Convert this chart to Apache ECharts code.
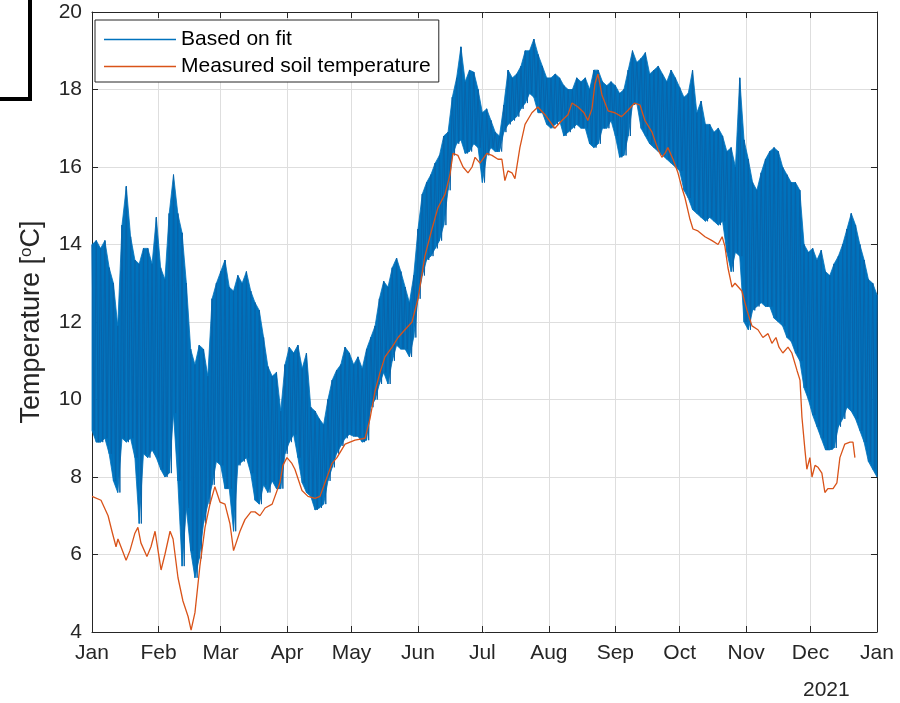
<!DOCTYPE html>
<html>
<head>
<meta charset="utf-8">
<script src="https://cdn.jsdelivr.net/npm/echarts@6/dist/echarts.min.js"></script>
<style>
  html, body { margin: 0; padding: 0; background: #ffffff; }
  #chart { width: 900px; height: 703px; }
</style>
</head>
<body>
<div id="chart"></div>
<script>
// Axis ticks: day-of-year (2020 is a leap year) for the first of each month
const monthStarts = [0, 31, 60, 91, 121, 152, 182, 213, 244, 274, 305, 335, 366];
const monthLabels = ['Jan', 'Feb', 'Mar', 'Apr', 'May', 'Jun', 'Jul', 'Aug', 'Sep', 'Oct', 'Nov', 'Dec', 'Jan'];
const yearLabel = '2021';
const tempMin = 4;
const tempMax = 20;
const tempStep = 2;

// Fitted temperature: daily upper and lower extremes, one value every 2 days (day 0 .. 366)
const fitStepDays = 2;
const fitHigh = [
  14.0, 14.1, 13.9, 14.1, 13.4, 13.0, 11.9, 14.5, 15.5, 14.2,
  13.6, 13.5, 13.9, 13.9, 13.5, 14.7, 13.4, 13.1, 14.8, 15.8,
  14.8, 14.3, 13.0, 11.3, 10.9, 11.4, 11.3, 10.6, 12.6, 13.0,
  13.3, 13.6, 12.9, 12.8, 13.2, 13.0, 13.3, 12.8, 12.5, 12.3,
  11.6, 10.85, 10.6, 10.7, 9.7, 10.9, 11.35, 11.2, 11.4, 10.8,
  11.2, 9.8, 9.7, 9.5, 9.35, 10.0, 10.5, 10.75, 10.9, 11.35,
  11.2, 10.9, 11.1, 10.8, 11.3, 11.6, 11.9, 12.6, 13.05, 12.9,
  13.4, 13.65, 13.3, 12.9, 12.5, 13.2, 14.4, 15.3, 15.6, 15.8,
  16.1, 16.3, 16.8, 16.9, 17.8, 18.3, 19.1, 18.2, 18.5, 18.45,
  18.0, 17.4, 17.5, 17.2, 16.9, 16.8, 17.6, 18.5, 18.3, 18.4,
  18.6, 19.0, 19.0, 19.3, 18.9, 18.6, 18.3, 18.3, 18.4, 18.3,
  18.1, 18.0, 18.0, 18.3, 18.2, 18.3, 18.0, 18.5, 18.5, 18.2,
  18.1, 18.2, 18.1, 17.9, 18.0, 18.5, 19.0, 18.7, 18.8, 18.95,
  18.4, 18.5, 18.6, 18.4, 18.2, 18.5, 18.3, 18.05, 17.8, 17.9,
  18.5, 17.4, 17.7, 17.1, 17.1, 16.9, 17.0, 16.8, 16.4, 16.5,
  16.0, 18.3, 16.7, 16.2, 15.6, 15.4, 15.85, 16.2, 16.4, 16.5,
  16.4, 16.0, 15.8, 15.6, 15.6, 15.4, 14.0, 13.8, 13.9, 13.6,
  13.85, 13.3, 13.2, 13.5, 13.7, 14.0, 14.4, 14.8, 14.5, 14.0,
  13.6, 13.1, 13.0, 12.7
];
const fitLow = [
  9.2, 8.9, 8.9, 9.0, 8.6, 7.9, 7.6, 9.0, 8.9, 9.0,
  8.5, 6.8, 8.6, 8.5, 8.7, 8.5, 8.2, 8.0, 8.1, 9.65,
  7.9, 5.7, 7.2, 6.1, 5.4, 5.9, 6.8, 7.3, 7.8, 8.4,
  8.3, 7.7, 7.7, 6.6, 8.3, 8.4, 8.5, 8.1, 7.4, 7.3,
  7.8, 7.6, 7.9, 7.7, 7.7, 8.6, 8.9, 9.1, 8.5, 7.85,
  7.6, 7.5, 7.15, 7.2, 7.3, 7.9, 8.25, 8.6, 8.8, 9.0,
  9.1, 9.05, 9.05, 8.9, 8.95, 9.8, 10.0, 10.4, 10.7, 10.4,
  11.0, 11.4, 11.3, 11.3, 11.1, 11.6, 12.6, 13.2, 13.6, 13.7,
  13.9, 14.1, 14.5, 15.4, 16.3, 16.6, 16.7, 16.35, 16.4, 16.6,
  16.5, 15.6, 16.3, 16.5, 16.4, 16.4, 16.9, 17.1, 17.2, 17.3,
  17.5, 17.65, 17.9, 17.8, 17.4, 17.4, 17.1, 17.0, 17.1, 17.2,
  16.8, 16.9, 17.0, 17.1, 17.0, 17.0, 16.6, 16.5, 16.6, 17.0,
  17.0, 17.2, 16.8, 16.25, 16.3, 16.8, 17.6, 17.65, 17.0, 16.8,
  16.6, 16.5, 16.4, 16.3, 16.2, 16.1, 16.0, 15.9, 15.4, 15.2,
  14.9, 14.8, 14.7, 14.6, 14.7, 14.6, 14.5, 14.6, 13.8, 13.3,
  13.8, 13.7, 12.0, 11.8, 12.3, 12.4, 12.5, 12.4, 12.4, 12.1,
  12.0, 11.9, 11.6, 11.5, 11.2, 11.0, 10.3, 10.0, 9.6, 9.3,
  9.0, 8.7, 8.7, 8.75, 9.3, 9.5, 9.8, 9.7, 9.5, 9.2,
  8.9, 8.4, 8.2, 8.0
];

// Measured soil temperature (day of year, degrees C)
const soilDays = [
  0, 4.2, 7.5, 9.3, 11.2, 12.1, 13.5, 15.9, 17.7, 20,
  21.4, 22.8, 25.6, 27.5, 29.4, 30.8, 32.2, 34, 36.4, 37.8,
  40.1, 42.4, 44.8, 46.2, 48, 50.3, 52.7, 55, 57.3, 59.7,
  62, 64.3, 66, 69, 71.3, 74.1, 76, 78.3, 80.7, 84,
  87.6, 89, 90.9, 93.2, 94.6, 97.9, 100.7, 104, 106.3, 109.6,
  111.9, 114.2, 118, 122.6, 127.3, 129.6, 131.9, 134.3, 136.6, 139.9,
  142.7, 145.9, 149.2, 152, 155.2, 158.5, 161.3, 164.6, 166.9, 168.3,
  170.6, 173, 175.3, 177.2, 178.6, 180.9, 184.1, 186.5, 189.3, 191.1,
  192.5, 193.9, 195.8, 197.2, 199.5, 201.9, 205.1, 207.9, 211.2, 214.5,
  215.8, 219.1, 221.9, 223.8, 226.6, 229.4, 231.2, 233.1, 234.5, 235.9,
  237.8, 240.6, 243.8, 246.9, 249.7, 253, 255.5, 257.8, 261.1, 263.9,
  265.7, 267.1, 268.5, 270.9, 273.2, 275.1, 276.5, 278.8, 280.2, 282.5,
  285.8, 289.1, 291.9, 293.8, 295.1, 296.5, 298.4, 299.8, 303, 305.4,
  307.7, 310.5, 312.8, 315.2, 317, 318.9, 320.3, 322.1, 324.5, 326.3,
  328.7, 330.1, 331, 332.4, 333.3, 334.7, 335.7, 337.1, 338.5, 340.3,
  341.7, 343.1, 345.5, 347.3, 348.7, 351, 353.4, 354.8, 355.7
];
const soilTemps = [
  7.5, 7.4, 7.0, 6.6, 6.2, 6.4, 6.2, 5.85, 6.1, 6.55,
  6.7, 6.3, 5.95, 6.2, 6.6, 6.1, 5.6, 6.0, 6.6, 6.4,
  5.4, 4.8, 4.4, 4.05, 4.5, 5.7, 6.7, 7.3, 7.75, 7.35,
  7.3, 6.8, 6.1, 6.6, 6.9, 7.1, 7.1, 7.0, 7.2, 7.3,
  7.85, 8.3, 8.5, 8.35, 8.2, 7.65, 7.5, 7.45, 7.5, 8.0,
  8.35, 8.5, 8.85, 8.95, 9.0, 9.5, 10.2, 10.7, 11.1, 11.35,
  11.6, 11.8, 12.0, 12.6, 13.7, 14.4, 14.95, 15.3, 15.8, 16.35,
  16.3, 16.0, 15.85, 16.0, 16.25, 16.1, 16.35, 16.3, 16.2, 16.2,
  15.65, 15.9, 15.85, 15.7, 16.5, 17.1, 17.4, 17.55, 17.35, 17.1,
  17.0, 17.2, 17.35, 17.65, 17.55, 17.4, 17.2, 17.5, 18.15, 18.4,
  17.85, 17.45, 17.4, 17.3, 17.45, 17.65, 17.6, 17.2, 16.9, 16.45,
  16.25, 16.35, 16.5, 16.2, 15.85, 15.45, 15.2, 14.65, 14.4, 14.35,
  14.2, 14.1, 14.0, 14.2, 13.95, 13.4, 12.9, 13.0, 12.8, 12.3,
  11.9, 11.8, 11.6, 11.7, 11.45, 11.6, 11.35, 11.2, 11.35, 11.2,
  10.75, 10.5, 9.55, 8.7, 8.2, 8.5, 8.0, 8.3, 8.25, 8.1,
  7.6, 7.7, 7.7, 7.85, 8.5, 8.85, 8.9, 8.9, 8.5
];

const FONT = '"Liberation Sans", Arial, Helvetica, sans-serif';
const INK = '#262626';
const GRID = '#dedede';
const BLUE = '#0072BD';
const BLUE_DARK = '#0864aa';
const ORANGE = '#D95319';
const lastDay = monthStarts[monthStarts.length - 1];

// The fitted trace swings between the daily high and the daily low
const fitData = [];
fitHigh.forEach((hi, i) => {
  const day = i * fitStepDays;
  fitData.push([day, hi]);
  if (day + 1 <= lastDay) fitData.push([day + 1, fitLow[i]]);
});
// Envelope cells between consecutive samples: [day, low, high, nextDay, nextLow, nextHigh]
const bandCells = fitHigh.slice(0, -1).map((hi, i) => [
  i * fitStepDays, fitLow[i], hi,
  (i + 1) * fitStepDays, fitLow[i + 1], fitHigh[i + 1]
]);
const soilData = soilDays.map((d, i) => [d, soilTemps[i]]);

const chart = echarts.init(document.getElementById('chart'), null, { renderer: 'canvas' });

const frameAxis = (position) => ({
  axisLine: { show: true, onZero: false, lineStyle: { color: INK, width: 1 } },
  axisTick: { show: true, inside: true, length: 6, lineStyle: { color: INK, width: 1 } },
  position: position
});

chart.setOption({
  animation: false,
  backgroundColor: '#ffffff',
  grid: { left: 92, right: 23, top: 12, bottom: 71 },
  xAxis: [
    Object.assign(frameAxis('bottom'), {
      type: 'value', min: monthStarts[0], max: lastDay,
      axisTick: { show: true, inside: true, length: 6, customValues: monthStarts, lineStyle: { color: INK } },
      axisLabel: {
        customValues: monthStarts,
        formatter: (v) => monthLabels[monthStarts.indexOf(v)],
        color: INK, fontSize: 21, fontFamily: FONT, margin: 11
      },
      splitLine: { show: true, lineStyle: { color: GRID, width: 1 } }
    }),
    Object.assign(frameAxis('top'), {
      type: 'value', min: monthStarts[0], max: lastDay,
      axisTick: { show: true, inside: true, length: 6, customValues: monthStarts, lineStyle: { color: INK } },
      axisLabel: { show: false },
      splitLine: { show: false }
    })
  ],
  yAxis: [
    Object.assign(frameAxis('left'), {
      type: 'value', min: tempMin, max: tempMax, interval: tempStep,
      axisLabel: { color: INK, fontSize: 21, fontFamily: FONT, margin: 10 },
      splitLine: { show: true, lineStyle: { color: GRID, width: 1 } },
      name: 'Temperature [{sup|o}C]',
      nameLocation: 'middle',
      nameRotate: 90,
      nameGap: 46,
      nameTextStyle: {
        color: INK, fontSize: 27, fontFamily: FONT,
        rich: { sup: { fontSize: 17, fontFamily: FONT, color: INK, padding: [0, 0, 11, 0] } }
      }
    }),
    Object.assign(frameAxis('right'), {
      type: 'value', min: tempMin, max: tempMax, interval: tempStep,
      axisLabel: { show: false },
      splitLine: { show: false }
    })
  ],
  legend: {
    left: 95, top: 20,
    orient: 'vertical',
    itemWidth: 72, itemHeight: 1.5, itemGap: 2,
    padding: [7, 8, 3, 9],
    backgroundColor: '#ffffff',
    borderColor: INK, borderWidth: 1,
    textStyle: { color: '#000000', fontSize: 21, fontFamily: FONT, lineHeight: 25 },
    data: [
      { name: 'Based on fit', icon: 'rect', itemStyle: { color: BLUE } },
      { name: 'Measured soil temperature', icon: 'rect', itemStyle: { color: ORANGE } }
    ]
  },
  graphic: [
    { type: 'rect', shape: { x: 28, y: 0, width: 4, height: 101 }, style: { fill: '#000000' } },
    { type: 'rect', shape: { x: 0, y: 97, width: 32, height: 4 }, style: { fill: '#000000' } },
    { type: 'text', x: 803, y: 680, style: { text: yearLabel, fill: INK, fontSize: 21, fontFamily: FONT } }
  ],
  series: [
    {
      name: 'fit envelope', type: 'custom', data: bandCells, silent: true, z: 1,
      encode: { x: [0, 3], y: [1, 2, 4, 5] },
      renderItem: (params, api) => {
        const a = api.coord([api.value(0), api.value(2)]);
        const b = api.coord([api.value(3), api.value(5)]);
        const c = api.coord([api.value(3), api.value(4)]);
        const d = api.coord([api.value(0), api.value(1)]);
        return {
          type: 'polygon',
          shape: { points: [a, b, c, d] },
          style: { fill: BLUE, stroke: BLUE, lineWidth: 0.8 }
        };
      }
    },
    {
      name: 'Based on fit', type: 'line', data: fitData,
      symbol: 'none', showSymbol: false, sampling: null,
      lineStyle: { color: BLUE_DARK, width: 1 }, itemStyle: { color: BLUE },
      z: 2
    },
    {
      name: 'Measured soil temperature', type: 'line', data: soilData,
      symbol: 'none', showSymbol: false,
      lineStyle: { color: ORANGE, width: 1.3 }, itemStyle: { color: ORANGE },
      z: 3
    }
  ]
});
</script>
</body>
</html>
